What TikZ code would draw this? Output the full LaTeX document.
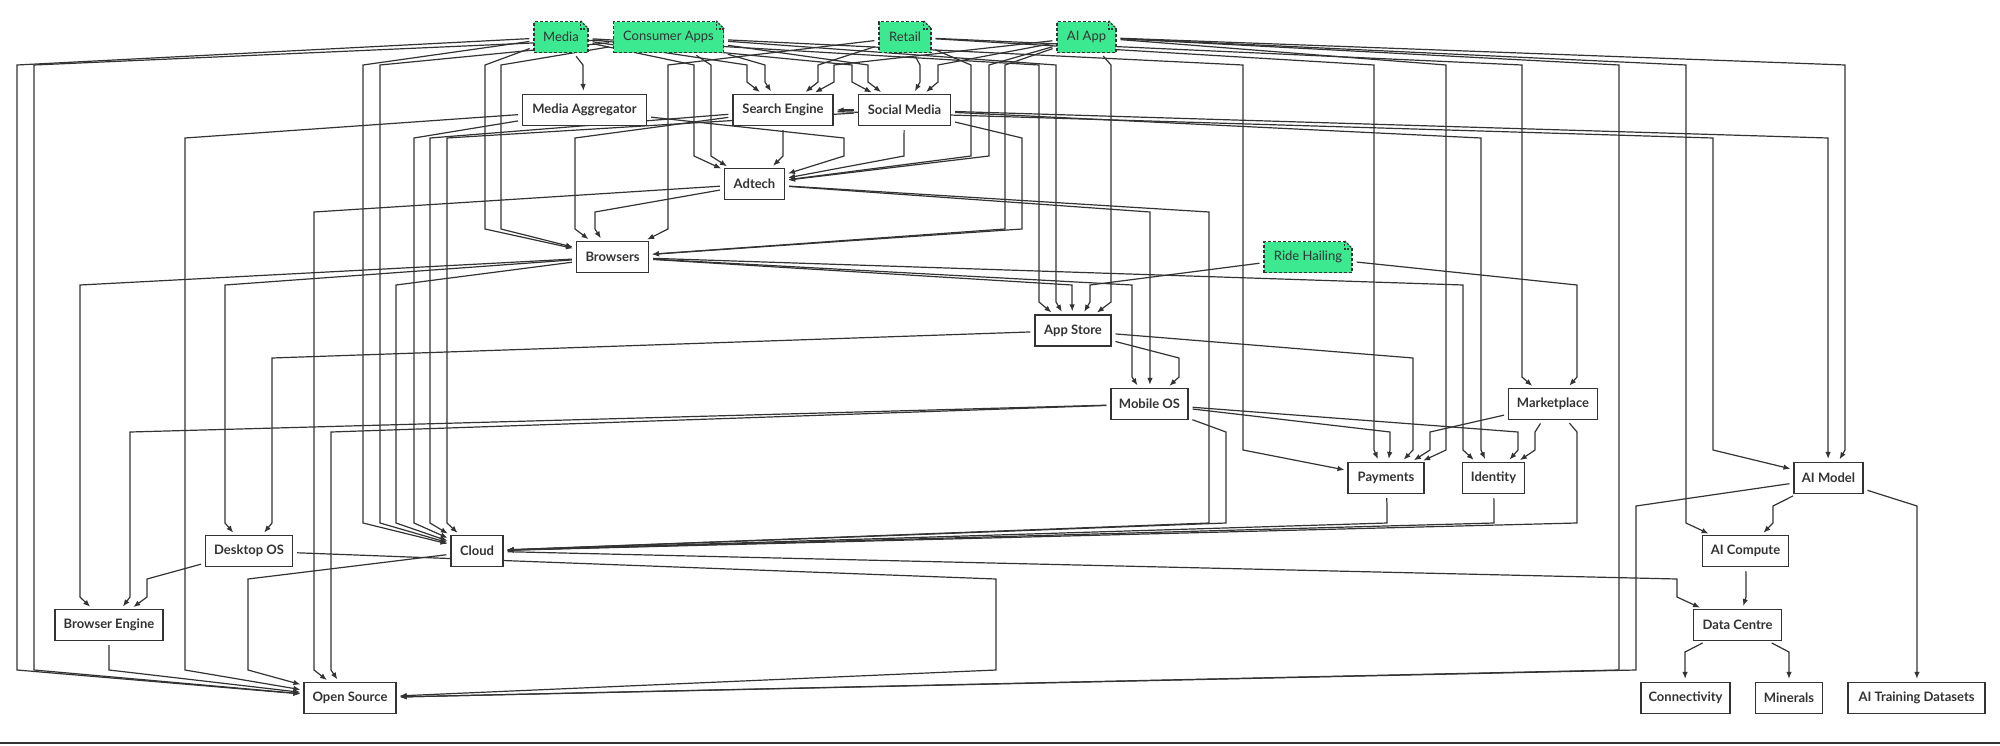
\documentclass[tikz,border=0pt]{standalone}
\usepackage{fontspec}
\setmainfont{Lato}
\usetikzlibrary{arrows.meta,backgrounds}

\definecolor{inkgray}{RGB}{51,51,51}
\definecolor{notegreen}{RGB}{60,233,145}

\tikzset{
  box/.style={draw=inkgray, line width=1.2pt, fill=white, text=inkgray, minimum height=31pt, inner xsep=2pt, font=\fontsize{13}{15}\selectfont\bfseries},
  note/.style={draw=inkgray, line width=1.2pt, dash pattern=on 3pt off 2pt, fill=notegreen, text=inkgray, minimum height=31pt, inner xsep=2pt, font=\fontsize{13}{15}\selectfont},
  notefold/.style={draw=inkgray, line width=1.2pt, dash pattern=on 2pt off 1.5pt},
  link/.style={draw=inkgray, line width=1.2pt, -{Latex[length=7pt,width=5.5pt]}, shorten <=4pt, shorten >=3pt},
}

% folded corner of a green note
\newcommand{\dogear}[1]{%
  \fill[white] ([xshift=-8pt,yshift=1pt]#1.north east) -- ([xshift=1pt,yshift=1pt]#1.north east) -- ([xshift=1pt,yshift=-8pt]#1.north east) -- cycle;
  \draw[notefold] ([xshift=-8pt]#1.north east) -- ([yshift=-8pt]#1.north east);
  \draw[notefold] ([xshift=-8pt]#1.north east) |- ([yshift=-8pt]#1.north east);
}

\begin{document}
\begin{tikzpicture}[x=1pt,y=-1pt]
    \useasboundingbox (0,0) rectangle (2000,745);

    % row 1
    \node[note, minimum width=54pt] (media) at (561,37) {Media};
    \node[note, minimum width=110pt] (capps) at (668.5,37) {Consumer Apps};
    \node[note, minimum width=52pt] (retail) at (905,37) {Retail};
    \node[note, minimum width=59pt] (aiapp) at (1086.5,37) {AI App};
    % row 2
    \node[box, minimum width=124pt] (medagg) at (584.5,110) {Media Aggregator};
    \node[box, minimum width=100pt] (search) at (783,110) {Search Engine};
    \node[box, minimum width=92pt] (social) at (904.5,110) {Social Media};
    % row 3
    \node[box, minimum width=60pt] (adtech) at (754.5,184) {Adtech};
    % row 4
    \node[box, minimum width=72pt] (browsers) at (612.5,257) {Browsers};
    \node[note, minimum width=88pt] (ride) at (1308,257) {Ride Hailing};
    % row 5
    \node[box, minimum width=76pt] (appstore) at (1073,330.5) {App Store};
    % row 6
    \node[box, minimum width=77pt] (mobileos) at (1149.5,404) {Mobile OS};
    \node[box, minimum width=89pt] (market) at (1553,404) {Marketplace};
    % row 7
    \node[box, minimum width=76pt] (payments) at (1386,478) {Payments};
    \node[box, minimum width=62pt] (identity) at (1493.5,478) {Identity};
    \node[box, minimum width=69pt] (aimodel) at (1828.5,478) {AI Model};
    % row 8
    \node[box, minimum width=87pt] (desktop) at (249,551) {Desktop OS};
    \node[box, minimum width=52pt] (cloud) at (477,551) {Cloud};
    \node[box, minimum width=86pt] (aicompute) at (1745.5,551) {AI Compute};
    % row 9
    \node[box, minimum width=108pt] (bengine) at (109,625) {Browser Engine};
    \node[box, minimum width=88pt] (datacentre) at (1737.5,625) {Data Centre};
    % row 10
    \node[box, minimum width=92pt] (opensource) at (350,698) {Open Source};
    \node[box, minimum width=89pt] (connect) at (1685.5,698) {Connectivity};
    \node[box, minimum width=67pt] (minerals) at (1789,698) {Minerals};
    \node[box, minimum width=137pt] (aitrain) at (1916.5,698) {AI Training Datasets};

    \dogear{media}
    \dogear{capps}
    \dogear{retail}
    \dogear{aiapp}
    \dogear{ride}

    \begin{scope}[on background layer]
    \fill[white] (0,0) rectangle (2000,745);
    % from the top row
    \draw[link] (media) -- (583,65) -- (583,82) -- (medagg);
    \draw[link] (media) -- (747,65) -- (747,82) -- (search);
    \draw[link] (media) -- (852,65) -- (852,82) -- (social);
    \draw[link] (media) -- (694,65) -- (694,156) -- (adtech);
    \draw[link] (media) -- (485,65) -- (485,229) -- (browsers);
    \draw[link] (media) -- (1039,65) -- (1039,302) -- (appstore);
    \draw[link] (media) -- (363,65) -- (363,523) -- (cloud);
    \draw[link] (media) -- (17,65) -- (17,670) -- (opensource);
    \draw[link] (capps) -- (765,65) -- (765,82) -- (search);
    \draw[link] (capps) -- (868,65) -- (868,82) -- (social);
    \draw[link] (capps) -- (711,65) -- (711,156) -- (adtech);
    \draw[link] (capps) -- (501,65) -- (501,229) -- (browsers);
    \draw[link] (capps) -- (1056,65) -- (1056,302) -- (appstore);
    \draw[link] (capps) -- (380,65) -- (380,523) -- (cloud);
    \draw[link] (capps) -- (34,65) -- (34,670) -- (opensource);
    \draw[link] (capps) -- (1243,65) -- (1243,450) -- (payments);
    \draw[link] (retail) -- (818,65) -- (818,82) -- (search);
    \draw[link] (retail) -- (920,65) -- (920,82) -- (social);
    \draw[link] (retail) -- (971,65) -- (971,156) -- (adtech);
    \draw[link] (retail) -- (668,65) -- (668,229) -- (browsers);
    \draw[link] (retail) -- (1522,65) -- (1522,377) -- (market);
    \draw[link] (retail) -- (1374,65) -- (1374,450) -- (payments);
    \draw[link] (aiapp) -- (834,65) -- (834,82) -- (search);
    \draw[link] (aiapp) -- (938,65) -- (938,82) -- (social);
    \draw[link] (aiapp) -- (989,65) -- (989,156) -- (adtech);
    \draw[link] (aiapp) -- (1005,65) -- (1005,229) -- (browsers);
    \draw[link] (aiapp) -- (1111,65) -- (1111,302) -- (appstore);
    \draw[link] (aiapp) -- (1446,65) -- (1446,450) -- (payments);
    \draw[link] (aiapp) -- (1619,65) -- (1619,670) -- (opensource);
    \draw[link] (aiapp) -- (1686,65) -- (1686,523) -- (aicompute);
    \draw[link] (aiapp) -- (1845,65) -- (1845,450) -- (aimodel);
    % second row
    \draw[link] (medagg) -- (844,138) -- (844,156) -- (adtech);
    \draw[link] (medagg) -- (185,138) -- (185,670) -- (opensource);
    \draw[link] (medagg) -- (414,138) -- (414,523) -- (cloud);
    \draw[link] (search) -- (783,138) -- (783,156) -- (adtech);
    \draw[link] (search) -- (575,138) -- (575,229) -- (browsers);
    \draw[link] (search) -- (430,138) -- (430,523) -- (cloud);
    \draw[link] (search) -- (1713,138) -- (1713,450) -- (aimodel);
    \draw[link] (social) -- (search);
    \draw[link] (social) -- (904,138) -- (904,156) -- (adtech);
    \draw[link] (social) -- (447,138) -- (447,523) -- (cloud);
    \draw[link] (social) -- (1022,138) -- (1022,229) -- (browsers);
    \draw[link] (social) -- (1481,138) -- (1481,450) -- (identity);
    \draw[link] (social) -- (1828,138) -- (1828,450) -- (aimodel);
    % adtech
    \draw[link] (adtech) -- (595,212) -- (595,229) -- (browsers);
    \draw[link] (adtech) -- (314,212) -- (314,670) -- (opensource);
    \draw[link] (adtech) -- (1209,212) -- (1209,523) -- (cloud);
    \draw[link] (adtech) -- (1150,212) -- (1150,377) -- (mobileos);
    % browsers and ride hailing
    \draw[link] (browsers) -- (1072,285) -- (1072,302) -- (appstore);
    \draw[link] (browsers) -- (1132,285) -- (1132,377) -- (mobileos);
    \draw[link] (browsers) -- (1463,285) -- (1463,450) -- (identity);
    \draw[link] (browsers) -- (396,285) -- (396,523) -- (cloud);
    \draw[link] (browsers) -- (225,285) -- (225,523) -- (desktop);
    \draw[link] (browsers) -- (80,285) -- (80,597) -- (bengine);
    \draw[link] (ride) -- (1090,285) -- (1090,302) -- (appstore);
    \draw[link] (ride) -- (1577,285) -- (1577,377) -- (market);
    % app store
    \draw[link] (appstore) -- (1179,358) -- (1179,377) -- (mobileos);
    \draw[link] (appstore) -- (272,358) -- (272,523) -- (desktop);
    \draw[link] (appstore) -- (1413,358) -- (1413,450) -- (payments);
    % mobile os and marketplace
    \draw[link] (mobileos) -- (1390,432) -- (1390,450) -- (payments);
    \draw[link] (mobileos) -- (1518,432) -- (1518,450) -- (identity);
    \draw[link] (mobileos) -- (1226,432) -- (1226,523) -- (cloud);
    \draw[link] (mobileos) -- (130,432) -- (130,597) -- (bengine);
    \draw[link] (mobileos) -- (331,432) -- (331,670) -- (opensource);
    \draw[link] (market) -- (1430,432) -- (1430,450) -- (payments);
    \draw[link] (market) -- (1535,432) -- (1535,450) -- (identity);
    \draw[link] (market) -- (1577,432) -- (1577,523) -- (cloud);
    % payments, identity, ai model
    \draw[link] (payments) -- (1387,506) -- (1387,523) -- (cloud);
    \draw[link] (identity) -- (1494,506) -- (1494,523) -- (cloud);
    \draw[link] (aimodel) -- (1773,506) -- (1773,523) -- (aicompute);
    \draw[link] (aimodel) -- (1917,506) -- (1917,670) -- (aitrain);
    \draw[link] (aimodel) -- (1636,506) -- (1636,670) -- (opensource);
    % desktop os, cloud, ai compute
    \draw[link] (desktop) -- (147,579) -- (147,597) -- (bengine);
    \draw[link] (desktop) -- (996,579) -- (996,670) -- (opensource);
    \draw[link] (cloud) -- (248,579) -- (248,670) -- (opensource);
    \draw[link] (cloud) -- (1677,579) -- (1677,597) -- (datacentre);
    \draw[link] (aicompute) -- (1746,579) -- (1746,597) -- (datacentre);
    % last rows
    \draw[link] (bengine) -- (109,652) -- (109,670) -- (opensource);
    \draw[link] (datacentre) -- (1685,652) -- (1685,670) -- (connect);
    \draw[link] (datacentre) -- (1789,652) -- (1789,670) -- (minerals);
    \draw[inkgray, line width=1.6pt] (0,743) -- (2000,743);
    \end{scope}
\end{tikzpicture}
\end{document}
